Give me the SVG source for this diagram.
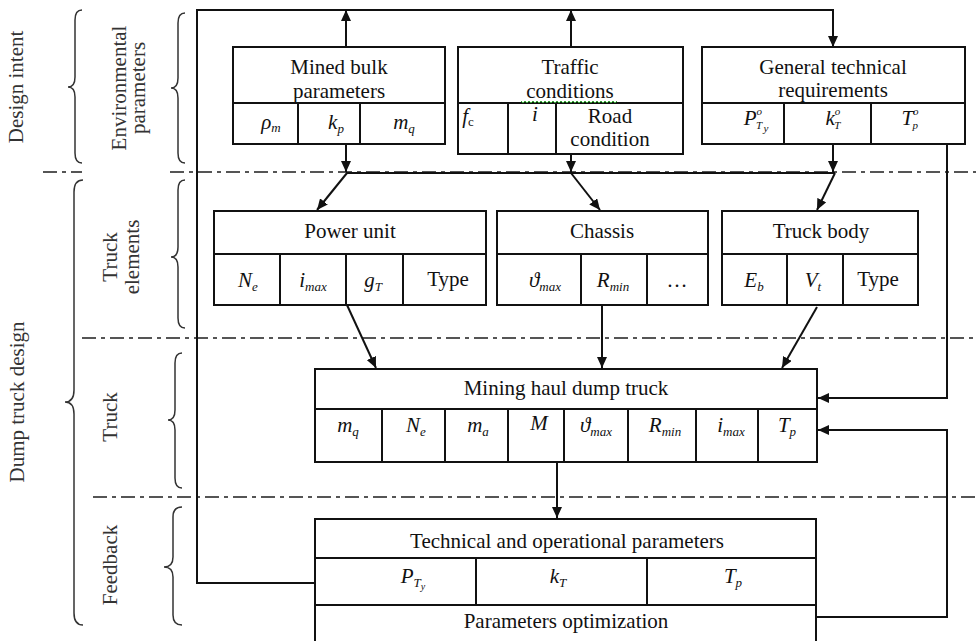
<svg xmlns="http://www.w3.org/2000/svg" width="976" height="641" viewBox="0 0 976 641">
<style>
.box{fill:#fff;stroke:#111;stroke-width:2}
.ln{stroke:#111;stroke-width:2;fill:none}
.dd{stroke:#555;stroke-width:2;stroke-dasharray:14 5 4 5;fill:none}
.br{stroke:#333;stroke-width:1.5;fill:none}
.t{font-family:"Liberation Serif","Times New Roman",serif;font-size:21px;fill:#111;text-anchor:middle}
.m{font-style:italic}
.lbl{fill:#333}
.s{font-size:13px}
.ss{font-size:11px}
</style>
<defs>
<marker id="ah" markerUnits="userSpaceOnUse" markerWidth="12" markerHeight="10" refX="11" refY="5" orient="auto">
<path d="M0,0 L11,5 L0,10 z" fill="#111"/>
</marker>
</defs>
<rect width="976" height="641" fill="#fff"/>

<g id="dividers">
<line class="dd" x1="43" y1="172" x2="82" y2="172"/>
<line class="dd" x1="170" y1="172" x2="976" y2="172"/>
<line class="dd" x1="82" y1="338" x2="976" y2="338"/>
<line class="dd" x1="93" y1="497" x2="976" y2="497"/>
</g>

<g id="braces">
<path class="br" d="M82,10 Q75,10 75,20 L75,77 Q75,87 68,87 Q75,87 75,97 L75,153 Q75,163 82,163"/>
<path class="br" d="M83,180 Q74,180 74,192 L74,390 Q74,402 65,402 Q74,402 74,414 L74,613 Q74,625 83,625"/>
<path class="br" d="M185,13 Q178,13 178,23 L178,78 Q178,88 171,88 Q178,88 178,98 L178,153 Q178,163 185,163"/>
<path class="br" d="M185,180 Q178,180 178,190 L178,247 Q178,257 171,257 Q178,257 178,267 L178,318 Q178,328 185,328"/>
<path class="br" d="M182,353 Q175,353 175,363 L175,410 Q175,420 168,420 Q175,420 175,430 L175,478 Q175,488 182,488"/>
<path class="br" d="M182,507 Q173,507 173,517 L173,557 Q173,567 164,567 Q173,567 173,577 L173,615 Q173,625 182,625"/>
</g>

<g id="labels">
<text class="t lbl" transform="translate(23,87) rotate(-90)">Design intent</text>
<text class="t lbl" transform="translate(24,402) rotate(-90)">Dump truck design</text>
<text class="t lbl" transform="translate(126,88) rotate(-90)">Environmental</text>
<text class="t lbl" transform="translate(145,88) rotate(-90)">parameters</text>
<text class="t lbl" transform="translate(117,257) rotate(-90)">Truck</text>
<text class="t lbl" transform="translate(139,257) rotate(-90)">elements</text>
<text class="t lbl" transform="translate(117,417) rotate(-90)">Truck</text>
<text class="t lbl" transform="translate(117,565) rotate(-90)">Feedback</text>
</g>

<g id="connectors">
<polyline class="ln" points="315,583 197,583 197,10 833,10 833,47" marker-end="url(#ah)"/>
<line class="ln" x1="346" y1="47" x2="346" y2="10" marker-end="url(#ah)"/>
<line class="ln" x1="571" y1="47" x2="571" y2="10" marker-end="url(#ah)"/>
<line class="ln" x1="346" y1="144" x2="346" y2="172" marker-end="url(#ah)"/>
<line class="ln" x1="571" y1="154" x2="571" y2="172" marker-end="url(#ah)"/>
<line class="ln" x1="833" y1="144" x2="833" y2="172" marker-end="url(#ah)"/>
<line class="ln" x1="346" y1="173" x2="835" y2="173"/>
<line class="ln" x1="347" y1="173" x2="317" y2="210" marker-end="url(#ah)"/>
<line class="ln" x1="571" y1="173" x2="600" y2="210" marker-end="url(#ah)"/>
<line class="ln" x1="835" y1="173" x2="817" y2="210" marker-end="url(#ah)"/>
<polyline class="ln" points="947,144 947,398 818,398" marker-end="url(#ah)"/>
<line class="ln" x1="347" y1="305" x2="376" y2="368" marker-end="url(#ah)"/>
<line class="ln" x1="602" y1="305" x2="602" y2="368" marker-end="url(#ah)"/>
<line class="ln" x1="817" y1="307" x2="782" y2="368" marker-end="url(#ah)"/>
<line class="ln" x1="557" y1="462" x2="557" y2="518" marker-end="url(#ah)"/>
<polyline class="ln" points="816,617 947,617 947,430 818,430" marker-end="url(#ah)"/>
</g>

<g id="mined-bulk">
<rect class="box" x="233" y="47" width="212" height="97"/>
<path class="ln" d="M233,103 H445 M298,103 V144 M360,103 V144"/>
<text class="t" x="339" y="74">Mined bulk</text>
<text class="t" x="339" y="98">parameters</text>
<text class="t m" x="271" y="129">ρ<tspan class="s" dy="3">m</tspan></text>
<text class="t m" x="336" y="129">k<tspan class="s" dy="4">p</tspan></text>
<text class="t m" x="404" y="129">m<tspan class="s" dy="4">q</tspan></text>
</g>

<g id="traffic">
<rect class="box" x="458" y="47" width="225" height="107"/>
<path class="ln" d="M458,103 H683 M508,103 V154 M556,103 V154"/>
<text class="t" x="570" y="74">Traffic</text>
<text class="t" x="570" y="98">conditions</text>
<polyline fill="none" stroke="#3a3" stroke-width="1" points="521,101 523,103 525,101 527,103 529,101 531,103 533,101 535,103 537,101 539,103 541,101 543,103 545,101 547,103 549,101 551,103 553,101 555,103 557,101 559,103 561,101 563,103 565,101 567,103 569,101 571,103 573,101 575,103 577,101 579,103 581,101 583,103 585,101 587,103 589,101 591,103 593,101 595,103 597,101 599,103 601,101 603,103 605,101 607,103 609,101 611,103 613,101 615,103 617,101"/>
<text class="t m" x="468" y="123">f<tspan class="s" dy="3" font-style="normal">c</tspan></text>
<text class="t m" x="535" y="121">i</text>
<text class="t" x="610" y="123">Road</text>
<text class="t" x="610" y="146">condition</text>
</g>

<g id="general-technical">
<rect class="box" x="702" y="47" width="263" height="97"/>
<path class="ln" d="M702,103 H965 M784,103 V144 M871,103 V144"/>
<text class="t m" x="756" y="125">P<tspan class="ss" dy="-10">o</tspan><tspan class="ss" dx="-6" dy="14">T</tspan><tspan class="ss" dx="2" dy="3">y</tspan></text>
<text class="t m" x="833" y="125">k<tspan class="ss" dy="-10">o</tspan><tspan class="ss" dx="-6" dy="14">T</tspan></text>
<text class="t m" x="910" y="125">T<tspan class="ss" dy="-10">o</tspan><tspan class="ss" dx="-6" dy="14">p</tspan></text>
<text class="t" x="833" y="74">General technical</text>
<text class="t" x="833" y="97">requirements</text>
</g>

<g id="power-unit">
<rect class="box" x="214" y="211" width="272" height="94"/>
<path class="ln" d="M214,254 H486 M280,254 V305 M346,254 V305 M403,254 V305"/>
<text class="t" x="350" y="238">Power unit</text>
<text class="t m" x="248" y="287">N<tspan class="s" dy="4">e</tspan></text>
<text class="t m" x="313" y="287">i<tspan class="s" dy="4">max</tspan></text>
<text class="t m" x="373" y="287">g<tspan class="s" dy="4">T</tspan></text>
<text class="t" x="448" y="286">Type</text>
</g>

<g id="chassis">
<rect class="box" x="497" y="211" width="211" height="94"/>
<path class="ln" d="M497,254 H708 M581,254 V305 M647,254 V305"/>
<text class="t" x="602" y="238">Chassis</text>
<text class="t m" x="545" y="287">ϑ<tspan class="s" dy="4">max</tspan></text>
<text class="t m" x="613" y="287">R<tspan class="s" dy="4">min</tspan></text>
<text class="t" x="677" y="287">…</text>
</g>

<g id="truck-body">
<rect class="box" x="722" y="211" width="196" height="94"/>
<path class="ln" d="M722,254 H918 M787,254 V305 M843,254 V305"/>
<text class="t" x="821" y="238">Truck body</text>
<text class="t m" x="754" y="287">E<tspan class="s" dy="4">b</tspan></text>
<text class="t m" x="813" y="287">V<tspan class="s" dy="4">t</tspan></text>
<text class="t" x="878" y="286">Type</text>
</g>

<g id="dump-truck">
<rect class="box" x="315" y="369" width="502" height="93"/>
<path class="ln" d="M315,409 H817 M382,409 V462 M445,409 V462 M508,409 V462 M564,409 V462 M628,409 V462 M696,409 V462 M758,409 V462"/>
<text class="t" x="566" y="395">Mining haul dump truck</text>
<text class="t m" x="348" y="432">m<tspan class="s" dy="4">q</tspan></text>
<text class="t m" x="416" y="432">N<tspan class="s" dy="4">e</tspan></text>
<text class="t m" x="478" y="432">m<tspan class="s" dy="4">a</tspan></text>
<text class="t m" x="539" y="430">M</text>
<text class="t m" x="596" y="432">ϑ<tspan class="s" dy="4">max</tspan></text>
<text class="t m" x="665" y="432">R<tspan class="s" dy="4">min</tspan></text>
<text class="t m" x="731" y="432">i<tspan class="s" dy="4">max</tspan></text>
<text class="t m" x="787" y="432">T<tspan class="s" dy="4">p</tspan></text>
</g>

<g id="technical-operational">
<rect class="box" x="315" y="519" width="501" height="130"/>
<path class="ln" d="M315,558 H816 M315,605 H816 M476,558 V605 M647,558 V605"/>
<text class="t" x="567" y="548">Technical and operational parameters</text>
<text class="t m" x="413" y="583">P<tspan class="s" dy="4">T</tspan><tspan font-size="10" dy="3">y</tspan></text>
<text class="t m" x="558" y="583">k<tspan class="s" dy="4">T</tspan></text>
<text class="t m" x="733" y="583">T<tspan class="s" dy="4">p</tspan></text>
<text class="t" x="566" y="628">Parameters optimization</text>
</g>
</svg>
